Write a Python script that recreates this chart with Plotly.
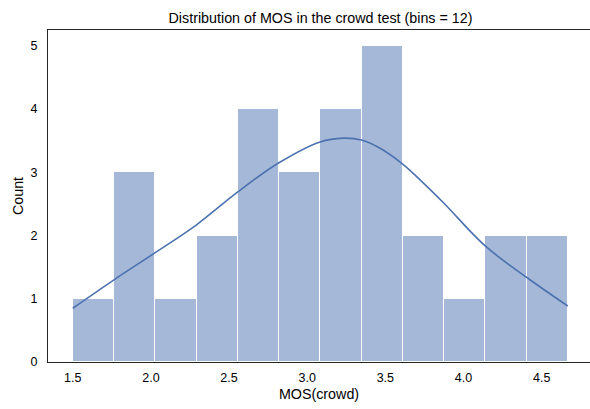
import numpy as np
import plotly.graph_objects as go

# Histogram of crowd MOS scores (12 equal-width bins between min and max)
mos_min = 1.5
mos_max = 4.667
n_bins = 12
counts = [1, 3, 1, 2, 4, 3, 4, 5, 2, 1, 2, 2]

# Kernel density estimate, scaled to counts
kde_x = [1.5, 1.764, 2.028, 2.292, 2.556, 2.819, 3.083, 3.23, 3.347,
         3.466, 3.611, 3.722, 3.875, 4.139, 4.403, 4.667]
kde_y = [0.85, 1.30, 1.73, 2.17, 2.69, 3.15, 3.48, 3.54, 3.51,
         3.38, 3.13, 2.88, 2.51, 1.835, 1.34, 0.886]

x_ticks = [1.5, 2.0, 2.5, 3.0, 3.5, 4.0, 4.5]
y_ticks = [0, 1, 2, 3, 4, 5]

edges = np.linspace(mos_min, mos_max, n_bins + 1)
centers = (edges[:-1] + edges[1:]) / 2
width = edges[1] - edges[0]

base = "#4c72b0"
ink = "#262626"
font = "Arial, Liberation Sans, sans-serif"

fig = go.Figure()
fig.add_trace(go.Bar(
    x=centers, y=counts, width=width,
    marker=dict(color="rgba(76,114,176,0.5)", line=dict(color="white", width=1)),
    hoverinfo="skip",
))
fig.add_trace(go.Scatter(
    x=kde_x, y=kde_y, mode="lines",
    line=dict(color=base, width=1.6, shape="spline", smoothing=1.0),
    hoverinfo="skip",
))

span = mos_max - mos_min
x_lo = mos_min - 0.05 * span
px_per_unit = 156.3
plot_w = 542
x_hi = x_lo + plot_w / px_per_unit

fig.update_layout(
    width=590, height=409,
    margin=dict(l=48, r=0, t=30, b=47),
    paper_bgcolor="white", plot_bgcolor="white",
    showlegend=False, bargap=0,
    font=dict(family=font, color=ink, size=13),
    title=dict(text="Distribution of MOS in the crowd test (bins = 12)",
               x=320.5 / 590, xanchor="center",
               y=1 - 18 / 409, yanchor="middle",
               font=dict(size=14.3, color="black", family=font)),
)
fig.update_xaxes(
    range=[x_lo, x_hi], tickvals=x_ticks, tickformat=".1f",
    showgrid=False, zeroline=False,
    showline=True, mirror=True, linecolor=ink, linewidth=1.25,
    ticks="outside", ticklen=4, tickcolor="rgba(0,0,0,0)",
    tickfont=dict(size=12.5, color="black"),
    title=dict(text="MOS(crowd)", font=dict(size=14.3, color="black"), standoff=4),
)
fig.update_yaxes(
    range=[0, 5.25], tickvals=y_ticks,
    showgrid=False, zeroline=False,
    showline=True, mirror=False, linecolor=ink, linewidth=1.25,
    ticks="outside", ticklen=7, tickcolor="rgba(0,0,0,0)",
    tickfont=dict(size=12.5, color="black"),
    title=dict(text="Count", font=dict(size=14.3, color="black"), standoff=3),
)

fig.write_html("out.html")
